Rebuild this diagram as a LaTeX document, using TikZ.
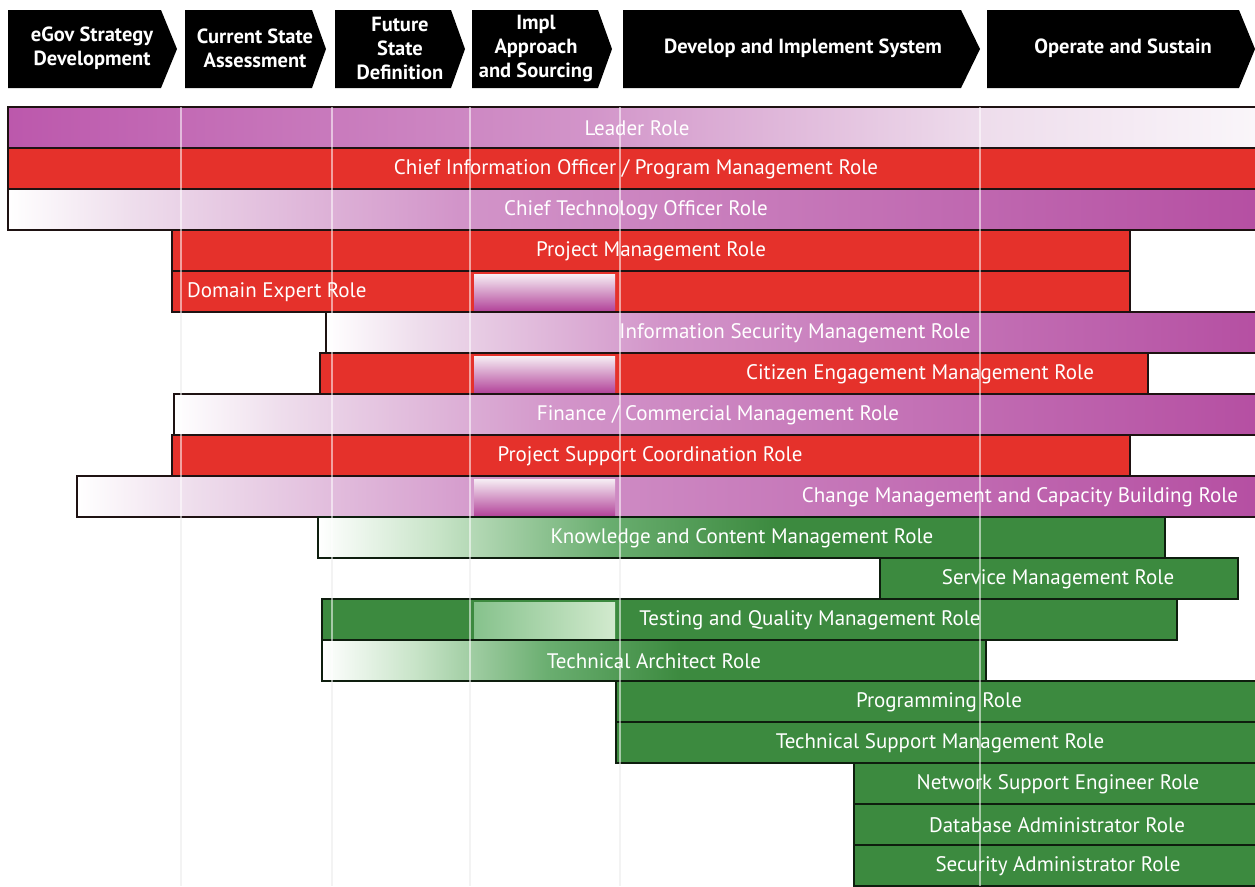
\documentclass[tikz,border=0pt]{standalone}
\usepackage{fontspec}
\setmainfont{PT Sans}
\definecolor{rred}{HTML}{E5312B}
\definecolor{ggreen}{HTML}{3C8A3F}
\definecolor{ppurp}{HTML}{B54FA2}
\definecolor{pmid}{HTML}{D294C9}
\definecolor{plight}{HTML}{EEDDEC}
\definecolor{pleft}{HTML}{BC58AC}
\definecolor{pfade}{HTML}{FAF6FA}
\definecolor{glight}{HTML}{C8E4C8}
\definecolor{gmid}{HTML}{6AAE70}
\definecolor{barline}{HTML}{1E1212}
\definecolor{gline}{HTML}{0E1E0E}
\definecolor{insettop}{HTML}{F6EEF4}
\definecolor{insetbot}{HTML}{B4489C}
\definecolor{ginsetl}{HTML}{86C28C}
\definecolor{ginsetr}{HTML}{D2EACE}
\pgfdeclarehorizontalshading{purpup}{100bp}{color(0bp)=(white); color(25bp)=(white); color(30bp)=(plight); color(43bp)=(pmid); color(75bp)=(ppurp); color(100bp)=(ppurp)}
\pgfdeclarehorizontalshading{purpdown}{100bp}{color(0bp)=(pleft); color(25bp)=(pleft); color(48bp)=(pmid); color(64bp)=(plight); color(75bp)=(pfade); color(100bp)=(pfade)}
\pgfdeclarehorizontalshading{greenup}{100bp}{color(0bp)=(white); color(25bp)=(white); color(32bp)=(glight); color(42bp)=(gmid); color(52bp)=(ggreen); color(100bp)=(ggreen)}
\tikzset{
  redbar/.style={fill=rred, draw=barline, line width=1.8pt},
  greenbar/.style={fill=ggreen, draw=gline, line width=1.8pt},
  purpbar/.style={shading=purpup, draw=barline, line width=1.8pt},
  leadbar/.style={shading=purpdown, draw=barline, line width=1.8pt},
  gfadebar/.style={shading=greenup, draw=gline, line width=1.8pt},
  redinset/.style={top color=insettop, bottom color=insetbot},
  greeninset/.style={left color=ginsetl, right color=ginsetr},
  roletxt/.style={text=white, font=\fontsize{21}{23}\selectfont, inner sep=0pt},
  headtxt/.style={text=white, font=\bfseries\fontsize{20.5}{24}\selectfont, align=center, inner sep=0pt},
  chevron/.style={fill=black},
  gridline/.style={white, opacity=0.55, line width=2pt},
  gridbg/.style={black!10, line width=1.2pt}
}
\newcommand\chev[3]{\fill[chevron] (#1,10) -- (#2,10) -- (#3,49) -- (#2,88) -- (#1,88) -- cycle;}
\newcommand\rolebar[4]{\path[#4] (#2,{107+41*(#1-1)}) rectangle (#3,{107+41*#1});}
\begin{document}
\begin{tikzpicture}[x=1pt,y=-1pt]
\useasboundingbox[fill=white] (0,0) rectangle (1255,886);
% header chevrons
\chev{8}{161}{177}
\chev{185}{312}{326}
\chev{335}{451}{465}
\chev{472}{598}{612}
\chev{623}{961}{980}
\chev{987}{1239}{1255}
\node[headtxt] (h1) at (92,48) {eGov Strategy\\Development};
\node[headtxt] (h2) at (255,48) {Current State\\Assessment};
\node[headtxt] (h3) at (400,48) {Future\\State\\Definition};
\node[headtxt] (h4) at (536,48) {Impl\\Approach\\and Sourcing};
\node[headtxt] (h5) at (803,48) {Develop and Implement System};
\node[headtxt] (h6) at (1123,48) {Operate and Sustain};
% faint grid lines behind
\foreach \gx in {181,332,470,620,980} \draw[gridbg] (\gx,107) -- (\gx,886);
% bars
\rolebar{1}{8}{1260}{leadbar}
\rolebar{2}{8}{1260}{redbar}
\rolebar{3}{8}{1260}{purpbar}
\rolebar{4}{172}{1130}{redbar}
\rolebar{5}{172}{1130}{redbar}
\fill[redinset] (474,274) rectangle (615,310);
\rolebar{6}{326}{1260}{purpbar}
\rolebar{7}{320}{1148}{redbar}
\fill[redinset] (474,356) rectangle (615,392);
\rolebar{8}{174}{1260}{purpbar}
\rolebar{9}{172}{1130}{redbar}
\rolebar{10}{77}{1260}{purpbar}
\fill[redinset] (474,479) rectangle (615,515);
\rolebar{11}{318}{1165}{gfadebar}
\rolebar{12}{880}{1238}{greenbar}
\rolebar{13}{322}{1177}{greenbar}
\fill[greeninset] (474,602) rectangle (615,638);
\rolebar{14}{322}{986}{gfadebar}
\rolebar{15}{616}{1260}{greenbar}
\rolebar{16}{616}{1260}{greenbar}
\rolebar{17}{854}{1260}{greenbar}
\rolebar{18}{854}{1260}{greenbar}
\rolebar{19}{854}{1260}{greenbar}
% grid lines over bars
\foreach \gx in {181,332,470,620,980} \draw[gridline] (\gx,107) -- (\gx,886);
% labels
\node[roletxt] (r1) at (637,128) {Leader Role};
\node[roletxt] (r2) at (636,169) {Chief Information Officer / Program Management Role};
\node[roletxt] (r3) at (636,210) {Chief Technology Officer Role};
\node[roletxt] (r4) at (651,251) {Project Management Role};
\node[roletxt, anchor=west] (r5) at (187,292) {Domain Expert Role};
\node[roletxt] (r6) at (795,333) {Information Security Management Role};
\node[roletxt] (r7) at (920,374) {Citizen Engagement Management Role};
\node[roletxt] (r8) at (718,415) {Finance / Commercial Management Role};
\node[roletxt] (r9) at (650,456) {Project Support Coordination Role};
\node[roletxt] (r10) at (1020,497) {Change Management and Capacity Building Role};
\node[roletxt] (r11) at (742,538) {Knowledge and Content Management Role};
\node[roletxt] (r12) at (1058,579) {Service Management Role};
\node[roletxt] (r13) at (810,620) {Testing and Quality Management Role};
\node[roletxt] (r14) at (654,661) {Technical Architect Role};
\node[roletxt] (r15) at (939,702) {Programming Role};
\node[roletxt] (r16) at (940,743) {Technical Support Management Role};
\node[roletxt] (r17) at (1058,784) {Network Support Engineer Role};
\node[roletxt] (r18) at (1057,825) {Database Administrator Role};
\node[roletxt] (r19) at (1058,866) {Security Administrator Role};
\end{tikzpicture}
\end{document}
